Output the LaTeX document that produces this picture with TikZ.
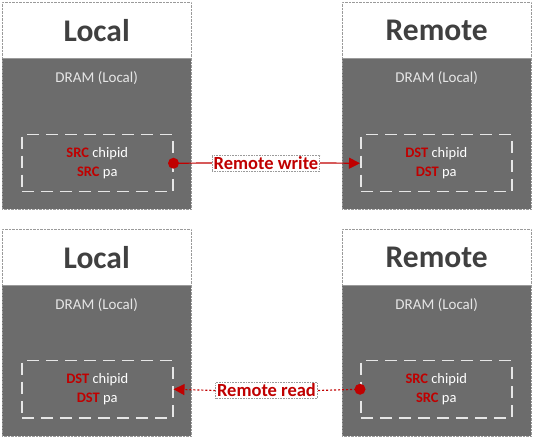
\documentclass[tikz,border=0pt]{standalone}
\usepackage{fontspec}
\setmainfont{Carlito}
\usetikzlibrary{arrows.meta}
\definecolor{bodygray}{HTML}{6C6C6C}
\definecolor{headtext}{HTML}{404040}
\definecolor{redc}{HTML}{C00000}
\definecolor{dashc}{HTML}{E6E6E6}
\definecolor{bordc}{HTML}{9A9A9A}
\tikzset{
 headbox/.style={draw=bordc, densely dotted, fill=white, minimum width=189pt, minimum height=56pt, anchor=north west, inner sep=0pt},
 bodybox/.style={draw=bordc, densely dotted, fill=bodygray, minimum width=189pt, minimum height=151pt, anchor=north west, inner sep=0pt},
 headtxt/.style={font=\fontsize{31.5}{32}\selectfont\bfseries, text=headtext},
 dramtxt/.style={font=\fontsize{15}{15}\selectfont, text=dashc},
 inbox/.style={draw=dashc, line width=1.5pt, dash pattern=on 12pt off 7pt, minimum width=151pt, minimum height=57pt, anchor=north west, inner sep=0pt},
 intxt/.style={font=\fontsize{14.5}{19.5}\selectfont, text=white, align=center},
 lbl/.style={draw=bordc, densely dotted, line width=0.6pt, font=\fontsize{18.5}{19}\selectfont\bfseries, text=redc, inner sep=1.5pt, fill=white},
 conn/.style={draw=redc, line width=1.2pt},
 dotconn/.style={draw=redc, line width=1.2pt, dash pattern=on 2pt off 2pt},
 tip/.style={-{Triangle[length=11pt,width=11pt]}},
}
\newcommand{\rd}[1]{\textcolor{redc}{\bfseries #1}}
\begin{document}
\begin{tikzpicture}[x=1pt,y=-1pt]
\useasboundingbox (0,0) rectangle (533,438);
% top-left
\node[bodybox] (tlb) at (2,58) {};
\node[headbox] (tlh) at (2,2) {};
\node[headtxt] (tlt) at (tlh.center) {Local};
\node[dramtxt] (tld) at ([yshift=-20pt]tlb.north) {DRAM (Local)};
\node[inbox] (tli) at (21,134) {};
\node[intxt] (tlx) at (tli.center) {\rd{SRC} chipid\\\rd{SRC} pa};
% top-right
\node[bodybox] (trb) at (342,58) {};
\node[headbox] (trh) at (342,2) {};
\node[headtxt] (trt) at (trh.center) {Remote};
\node[dramtxt] (trd) at ([yshift=-20pt]trb.north) {DRAM (Local)};
\node[inbox] (tri) at (360,134) {};
\node[intxt] (trx) at (tri.center) {\rd{DST} chipid\\\rd{DST} pa};
% bottom-left
\node[bodybox] (blb) at (2,285) {};
\node[headbox] (blh) at (2,229) {};
\node[headtxt] (blt) at (blh.center) {Local};
\node[dramtxt] (bld) at ([yshift=-20pt]blb.north) {DRAM (Local)};
\node[inbox] (bli) at (21,360) {};
\node[intxt] (blx) at (bli.center) {\rd{DST} chipid\\\rd{DST} pa};
% bottom-right
\node[bodybox] (brb) at (342,285) {};
\node[headbox] (brh) at (342,229) {};
\node[headtxt] (brt) at (brh.center) {Remote};
\node[dramtxt] (brd) at ([yshift=-20pt]brb.north) {DRAM (Local)};
\node[inbox] (bri) at (360,360) {};
\node[intxt] (brx) at (bri.center) {\rd{SRC} chipid\\\rd{SRC} pa};
% connectors
\node[lbl] (wl) at (266,163) {Remote write};
\draw[conn] (tli.east) -- (wl.west);
\draw[conn,tip] (wl.east) -- (tri.west);
\fill[redc] (tli.east) circle (5.5pt);
\node[lbl] (rl) at (266.5,390.5) {Remote read};
\draw[dotconn] (bri.west) -- (rl.east);
\draw[dotconn,tip] (rl.west) -- (bli.east);
\fill[redc] (bri.west) circle (5.5pt);
\end{tikzpicture}
\end{document}
